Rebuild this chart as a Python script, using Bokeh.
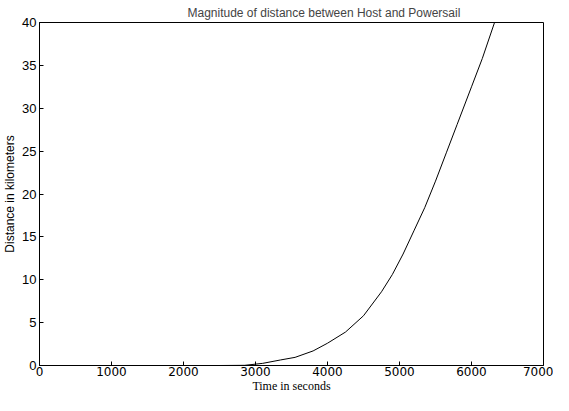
from bokeh.plotting import figure
from bokeh.models import Range1d, FixedTicker
from bokeh.embed import file_html
from bokeh.resources import INLINE

# Data
time_s = [0, 1000, 2000, 2500, 2850, 3100, 3350, 3550, 3800, 4000, 4250,
          4500, 4750, 4900, 5050, 5200, 5350, 5500, 5650, 5800, 6000, 6150, 6320]
distance_km = [0, 0, 0, 0, 0.02, 0.25, 0.65, 0.95, 1.7, 2.6, 3.9,
               5.8, 8.6, 10.6, 13.0, 15.7, 18.4, 21.5, 24.8, 28.1, 32.5, 35.8, 40.0]
x_ticks = [0, 1000, 2000, 3000, 4000, 5000, 6000, 7000]
y_ticks = [0, 5, 10, 15, 20, 25, 30, 35, 40]

p = figure(width=553, height=395, output_backend="svg", toolbar_location=None,
           x_range=Range1d(0, 7000), y_range=Range1d(0, 40),
           title="Magnitude of distance between Host and Powersail",
           min_border_left=38, min_border_right=10, min_border_top=18,
           min_border_bottom=29)
p.title.align = "left"
p.title.offset = 148
p.title.text_font = "Liberation Sans"
p.title.text_font_size = "12px"
p.title.text_font_style = "normal"
p.title.standoff = 6

p.line(time_s, distance_km, line_color="black", line_width=1)

p.grid.visible = False
p.outline_line_color = "black"
p.outline_line_width = 1

def style(ax, ticks):
    ax.ticker = FixedTicker(ticks=ticks)
    ax.major_tick_in = 4
    ax.major_tick_out = 0
    ax.minor_tick_in = 0
    ax.minor_tick_out = 0
    ax.axis_line_color = "black"
    ax.major_tick_line_color = "black"
    ax.major_label_text_color = "black"
    ax.axis_label_text_font_style = "normal"
    ax.axis_label_text_color = "black"

xa = p.xaxis[0]
ya = p.yaxis[0]
style(xa, x_ticks)
style(ya, y_ticks)
xa.major_label_text_font = "DejaVu Sans"
xa.major_label_text_font_size = "12px"
xa.major_label_standoff = 1
xa.axis_label = "Time in seconds"
xa.axis_label_text_font = "Liberation Serif"
xa.axis_label_text_font_size = "12px"
xa.axis_label_standoff = 0

ya.major_label_text_font = "Liberation Sans"
ya.major_label_text_font_size = "13px"
ya.major_label_standoff = 3
ya.axis_label = "Distance in kilometers"
ya.axis_label_text_font = "Liberation Sans"
ya.axis_label_text_font_size = "12px"
ya.axis_label_standoff = 2

out = file_html(p, INLINE)
open("out.html", "w").write(out)
